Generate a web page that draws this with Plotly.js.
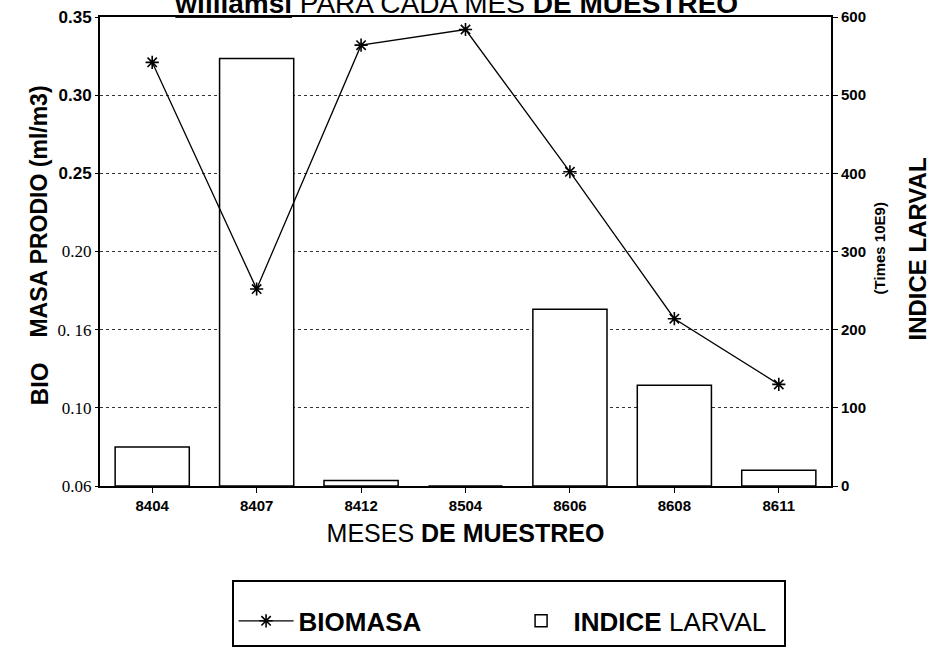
<!DOCTYPE html>
<html>
<head>
<meta charset="utf-8">
<script src="https://cdn.plot.ly/plotly-3.0.1.min.js"></script>
<style>body{margin:0;background:#fff}</style>
</head>
<body>
<div id="chart" style="width:944px;height:659px"></div>
<script>
// meses de muestreo y valores
const meses = ["8404", "8407", "8412", "8504", "8606", "8608", "8611"];
const biomasa = [0.321, 0.176, 0.332, 0.342, 0.251, 0.157, 0.115];
const indiceLarval = [50, 547, 7, 0, 226, 129, 20];
const bioTicks = [0.05, 0.10, 0.15, 0.20, 0.25, 0.30, 0.35];
const bioTickText = ["0.06", "0.10", "0. 16", "0.20", "0.25", "0.30", "0.35"];
const larvalTicks = [0, 100, 200, 300, 400, 500, 600];

const font = "Liberation Sans, Arial, sans-serif";
const serif = "Liberation Serif, Times New Roman, serif";

// the lower left labels come out in a serif face in the scan
const bioLabels = bioTickText.map((t, i) =>
  i < 4 ? "<span style='font-family:" + serif + ";font-weight:normal'>" + t + "</span>" : t
);

const traces = [
  {
    name: "<b>BIOMASA</b>",
    type: "scatter",
    mode: "lines+markers",
    x: meses,
    y: biomasa,
    yaxis: "y2",
    line: { color: "#000", width: 1.3 },
    marker: { symbol: "asterisk-open", size: 11, line: { color: "#000", width: 1.6 } },
  },
  {
    name: "<b>INDICE</b> LARVAL",
    type: "bar",
    x: meses,
    y: indiceLarval,
    yaxis: "y",
    width: 0.71,
    marker: { color: "#fff", line: { color: "#000", width: 1.5 } },
  },
];

const layout = {
  width: 944,
  height: 659,
  margin: { l: 100, r: 113, t: 17, b: 155 },
  paper_bgcolor: "#fff",
  plot_bgcolor: "#fff",
  font: { family: font, color: "#000" },
  title: {
    text: "<b><u>williamsi</u></b> PARA CADA MES <b>DE MUESTREO</b>",
    font: { family: font, size: 28, color: "#000" },
    xref: "paper",
    x: 0.488,
    xanchor: "center",
    yref: "container",
    y: 0.995,
    yanchor: "middle",
  },
  xaxis: {
    type: "category",
    range: [-0.5, 6.5],
    showline: true,
    linewidth: 2,
    linecolor: "#000",
    mirror: true,
    ticks: "outside",
    ticklen: 5,
    tickcolor: "#000",
    tickfont: { family: font, size: 15, weight: "bold" },
    title: {
      text: "MESES <b>DE MUESTREO</b>",
      font: { family: font, size: 25 },
      standoff: 11,
    },
  },
  yaxis: {
    side: "right",
    range: [0, 600],
    tickvals: larvalTicks,
    showgrid: true,
    griddash: "dot",
    gridcolor: "#333",
    gridwidth: 1,
    zeroline: false,
    showline: true,
    linewidth: 2,
    linecolor: "#000",
    ticks: "outside",
    ticklen: 5,
    tickcolor: "#000",
    tickfont: { family: font, size: 15, weight: "bold" },
  },
  yaxis2: {
    overlaying: "y",
    side: "left",
    range: [0.05, 0.35],
    tickvals: bioTicks,
    ticktext: bioLabels,
    showgrid: false,
    zeroline: false,
    showline: true,
    linewidth: 2,
    linecolor: "#000",
    ticks: "outside",
    ticklen: 3,
    tickcolor: "#000",
    tickfont: { family: font, size: 17, weight: "bold" },
  },
  showlegend: true,
  legend: {
    orientation: "h",
    x: 0.18,
    y: -0.2,
    xanchor: "left",
    yanchor: "top",
    bordercolor: "#000",
    borderwidth: 2,
    itemwidth: 55,
    entrywidth: 205,
    entrywidthmode: "pixels",
    font: { family: font, size: 26 },
    title: { text: "&nbsp;", side: "top", font: { size: 12 } },
  },
  annotations: [
    {
      text: "<b>BIO</b>",
      xref: "paper", yref: "paper",
      x: -0.104, y: 0.168,
      textangle: -90,
      showarrow: false,
      font: { family: font, size: 24 },
    },
    {
      text: "<b>MASA PRODIO (ml/m3)</b>",
      xref: "paper", yref: "paper",
      x: -0.104, y: 0.585,
      textangle: -90,
      showarrow: false,
      font: { family: font, size: 23 },
    },
    {
      text: "<b>(Times 10E9)</b>",
      xref: "paper", yref: "paper",
      x: 1.081, y: 0.506,
      textangle: -90,
      showarrow: false,
      font: { family: font, size: 15 },
    },
    {
      text: "<b>INDICE LARVAL</b>",
      xref: "paper", yref: "paper",
      x: 1.14, y: 0.506,
      textangle: -90,
      showarrow: false,
      font: { family: font, size: 24 },
    },
  ],
};

Plotly.newPlot("chart", traces, layout, { displayModeBar: false, staticPlot: true });
</script>
</body>
</html>
